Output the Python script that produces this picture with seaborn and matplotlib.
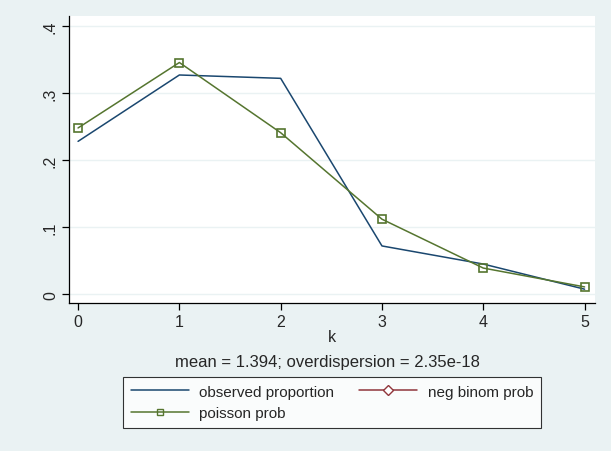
import matplotlib.pyplot as plt
from matplotlib.lines import Line2D
import numpy as np
import pandas as pd
import seaborn as sns

# values
k = [0, 1, 2, 3, 4, 5]
observed = [0.228, 0.327, 0.322, 0.072, 0.045, 0.0075]
poisson = [0.248, 0.3456, 0.2409, 0.1119, 0.0390, 0.0109]
yticks = [0, 0.1, 0.2, 0.3, 0.4]
ytick_labels = ['0', '.1', '.2', '.3', '.4']

bg = '#eaf2f3'
c_obs = '#1a476f'
c_nb = '#90353b'
c_poi = '#55752f'

sns.set_theme(style='white')
plt.rcParams['font.family'] = ['Liberation Sans', 'DejaVu Sans']

df = pd.DataFrame({'k': k, 'observed': observed, 'poisson': poisson})

fig = plt.figure(figsize=(6.11, 4.52), dpi=100, facecolor=bg)
ax = fig.add_axes([0.113, 0.327, 0.861, 0.636])
ax.set_facecolor('white')

sns.lineplot(data=df, x='k', y='observed', color=c_obs, lw=1.1, ax=ax)
sns.lineplot(data=df, x='k', y='poisson', color=c_poi, lw=1.1, marker='s',
             markersize=6, markerfacecolor='none', markeredgecolor=c_poi,
             markeredgewidth=1.2, ax=ax)

ax.set_xlim(-0.089, 5.104)
ax.set_ylim(-0.0134, 0.4154)
ax.set_yticks(yticks)
ax.set_yticklabels(ytick_labels, rotation=90, va='center')
ax.set_xticks(k)
for y in yticks:
    ax.axhline(y, color=bg, lw=1, zorder=0)

for s in ['top', 'right']:
    ax.spines[s].set_visible(False)
for s in ['left', 'bottom']:
    ax.spines[s].set_color('black')
    ax.spines[s].set_linewidth(0.9)
ax.tick_params(axis='both', direction='out', length=5, width=0.9, color='black',
               labelsize=11.5, pad=3, left=True, bottom=True)

ax.set_xlabel('k', fontsize=11.5, labelpad=0)
ax.set_ylabel('')
fig.text(0.536, 1 - 362 / 452, 'mean = 1.394; overdispersion = 2.35e-18', ha='center',
         va='center', fontsize=12)

handles = [
    Line2D([], [], color=c_obs, lw=1.1),
    Line2D([], [], color=c_poi, lw=1.1, marker='s', markersize=5,
           markerfacecolor='none', markeredgecolor=c_poi),
    Line2D([], [], color=c_nb, lw=1.1, marker='D', markersize=5,
           markerfacecolor='white', markeredgecolor=c_nb),
]
labels = ['observed proportion', 'poisson prob', 'neg binom prob']
leg = fig.legend(handles, labels, ncol=2, loc='upper left',
                 bbox_to_anchor=(123 / 611, 1 - 378 / 452), borderaxespad=0,
                 fontsize=11, frameon=True, fancybox=False, edgecolor='black',
                 facecolor='white', handlelength=3.8, handletextpad=0.7,
                 columnspacing=1.6, borderpad=0.5, labelspacing=0.5)
leg.get_frame().set_linewidth(0.8)

plt.savefig('out.png', dpi=100, facecolor=bg)
